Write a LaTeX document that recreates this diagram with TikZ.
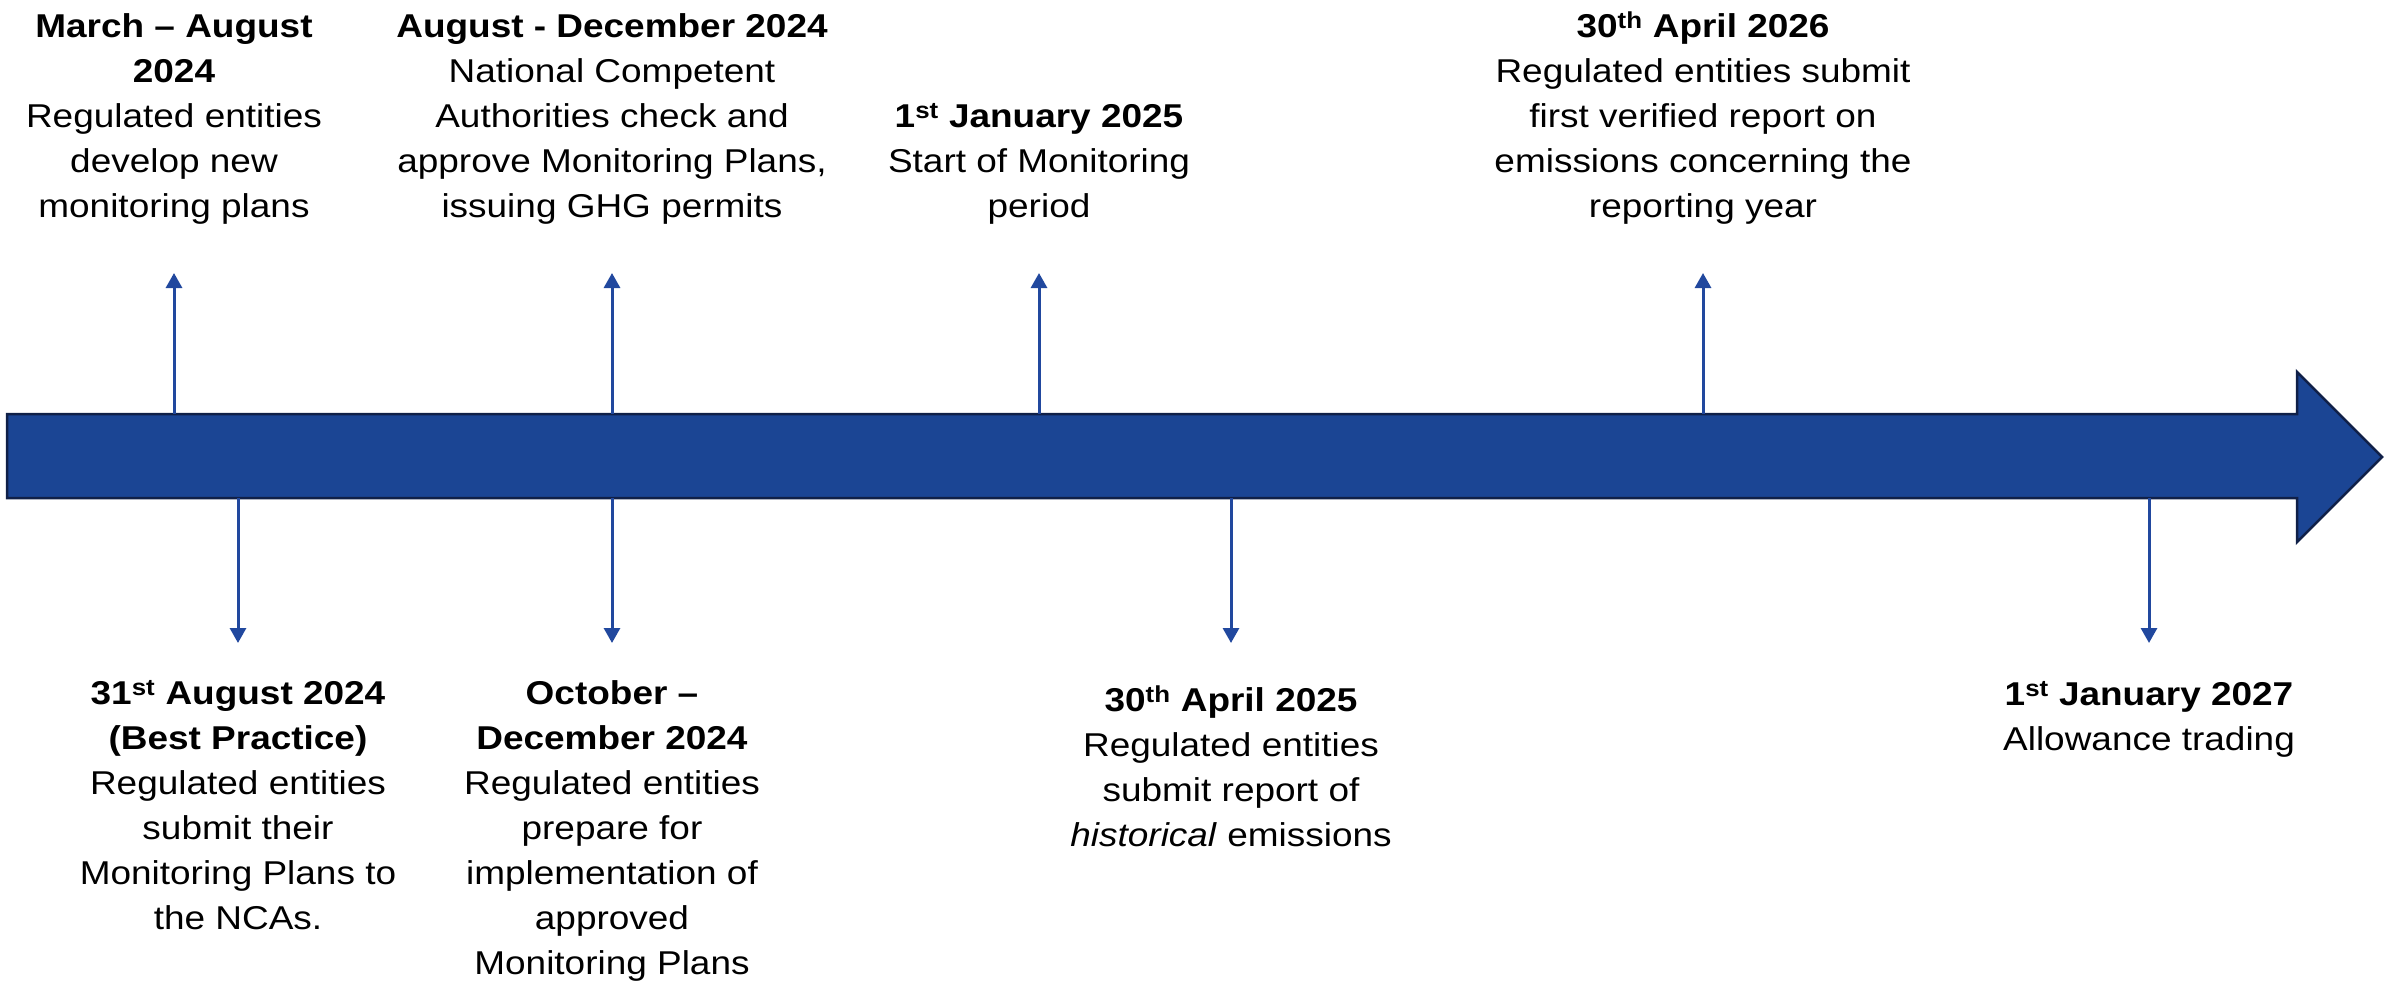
\documentclass[tikz,border=0pt]{standalone}
\usepackage{fontspec}
\setmainfont{Liberation Sans}[FakeStretch=1.12]
\usetikzlibrary{arrows.meta}
\definecolor{barblue}{RGB}{27,69,148}
\definecolor{barline}{RGB}{16,32,72}
\definecolor{conblue}{RGB}{33,72,158}
\newcommand{\fl}{\rule{0pt}{32pt}}
\begin{document}
\begin{tikzpicture}[x=1pt,y=-1pt,
  lbl/.style={align=center, inner sep=0pt, anchor=north, font=\fontsize{33}{45}\selectfont},
  conn/.style={draw=conblue, line width=3pt, -{Triangle[width=16pt,length=15pt]}},
  bararrow/.style={fill=barblue, draw=barline, line width=2.5pt, line join=miter}]
\useasboundingbox (0,0) rectangle (2395,980);

% main timeline arrow
\draw[bararrow] (7,414) -- (2297,414) -- (2297,372) -- (2382,457) -- (2297,542) -- (2297,498) -- (7,498) -- cycle;

% anchor points on the bar and arrow ends
\coordinate (a1) at (174,414);  \coordinate (e1) at (174,273);
\coordinate (a2) at (612,414);  \coordinate (e2) at (612,273);
\coordinate (a3) at (1039,414); \coordinate (e3) at (1039,273);
\coordinate (a4) at (1703,414); \coordinate (e4) at (1703,273);
\coordinate (c1) at (238,498);  \coordinate (f1) at (238,643);
\coordinate (c2) at (612,498);  \coordinate (f2) at (612,643);
\coordinate (c3) at (1231,498); \coordinate (f3) at (1231,643);
\coordinate (c4) at (2149,498); \coordinate (f4) at (2149,643);

\draw[conn] (a1) -- (e1);
\draw[conn] (a2) -- (e2);
\draw[conn] (a3) -- (e3);
\draw[conn] (a4) -- (e4);
\draw[conn] (c1) -- (f1);
\draw[conn] (c2) -- (f2);
\draw[conn] (c3) -- (f3);
\draw[conn] (c4) -- (f4);

% top labels
\node[lbl] (t1) at (174,5) {\fl\textbf{March – August}\\\textbf{2024}\\Regulated entities\\develop new\\monitoring plans};
\node[lbl] (t2) at (612,5) {\fl\textbf{August - December 2024}\\National Competent\\Authorities check and\\approve Monitoring Plans,\\issuing GHG permits};
\node[lbl] (t3) at (1039,95) {\fl\textbf{1\textsuperscript{st} January 2025}\\Start of Monitoring\\period};
\node[lbl] (t4) at (1703,5) {\fl\textbf{30\textsuperscript{th} April 2026}\\Regulated entities submit\\first verified report on\\emissions concerning the\\reporting year};

% bottom labels
\node[lbl] (b1) at (238,672) {\fl\textbf{31\textsuperscript{st} August 2024}\\\textbf{(Best Practice)}\\Regulated entities\\submit their\\Monitoring Plans to\\the NCAs.};
\node[lbl] (b2) at (612,672) {\fl\textbf{October –}\\\textbf{December 2024}\\Regulated entities\\prepare for\\implementation of\\approved\\Monitoring Plans};
\node[lbl] (b3) at (1231,679) {\fl\textbf{30\textsuperscript{th} April 2025}\\Regulated entities\\submit report of\\\textit{historical} emissions};
\node[lbl] (b4) at (2149,673) {\fl\textbf{1\textsuperscript{st} January 2027}\\Allowance trading};
\end{tikzpicture}
\end{document}
